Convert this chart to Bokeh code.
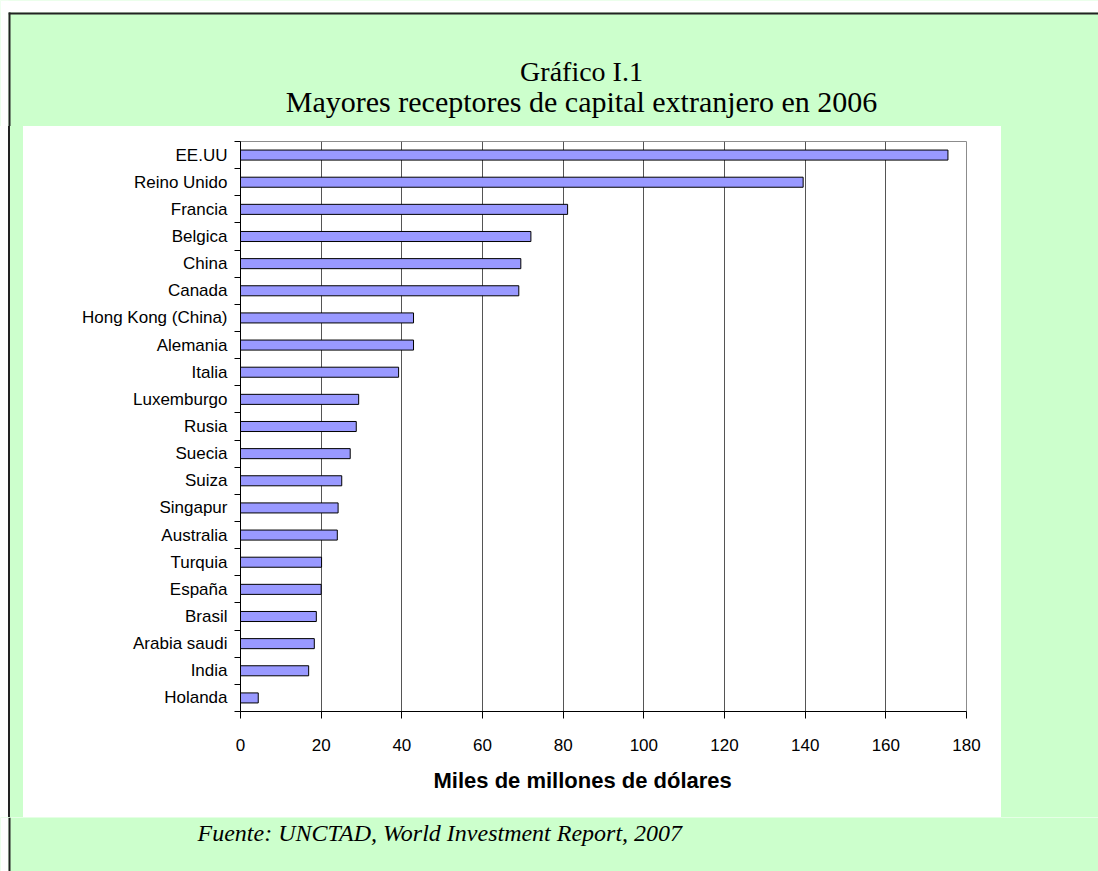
from bokeh.plotting import figure
from bokeh.layouts import column, row
from bokeh.models import Range1d, FixedTicker, Div, Title
from bokeh.core.properties import value
from bokeh.embed import file_html
from bokeh.resources import INLINE

countries = ["EE.UU", "Reino Unido", "Francia", "Belgica", "China", "Canada",
             "Hong Kong (China)", "Alemania", "Italia", "Luxemburgo", "Rusia",
             "Suecia", "Suiza", "Singapur", "Australia", "Turquia", "España",
             "Brasil", "Arabia saudi", "India", "Holanda"]
values = [175.4, 139.5, 81.1, 72.0, 69.5, 69.0, 42.9, 42.9, 39.2, 29.3, 28.7,
          27.2, 25.1, 24.2, 24.0, 20.1, 20.0, 18.8, 18.3, 16.9, 4.4]
x_ticks = [0, 20, 40, 60, 80, 100, 120, 140, 160, 180]

title_line1 = "Gráfico I.1"
title_line2 = "Mayores receptores de capital extranjero en 2006"
x_label = "Miles de millones de dólares"
source_note = "Fuente: UNCTAD, World Investment Report, 2007"

GREEN = "#CCFFCC"
BAR = "#9999FF"
EDGE = "#222222"
W = 1098
TOP_H = 126
MID_H = 691
BOT_H = 871 - TOP_H - MID_H
LEFT_W = 23
CHART_W = 978
RIGHT_W = W - LEFT_W - CHART_W


def spacer(w, h):
    f = figure(width=w, height=h, output_backend="svg", toolbar_location=None,
               x_range=Range1d(0, w), y_range=Range1d(h, 0), min_border=0,
               outline_line_color=None, background_fill_color=GREEN,
               border_fill_color=GREEN)
    f.axis.visible = False
    f.grid.visible = False
    return f


def left_margin(f, h, y0=0):
    f.quad(left=[0], right=[8], top=[0], bottom=[h], fill_color="white", line_color=None)
    f.quad(left=[8], right=[10], top=[y0], bottom=[h], fill_color=EDGE, line_color=None)


# top band with title
top = spacer(W, TOP_H)
top.quad(left=[0], right=[W], top=[0], bottom=[12], fill_color="white", line_color=None)
top.quad(left=[8], right=[W], top=[12], bottom=[14], fill_color=EDGE, line_color=None)
left_margin(top, TOP_H, 12)
top.text(x=[581], y=[71], text=[title_line1], text_font=value("Liberation Serif"),
         text_font_size="28px", text_align="center", text_baseline="alphabetic",
         text_color="black")
top.text(x=[581], y=[101], text=[title_line2], text_font=value("Liberation Serif"),
         text_font_size="30px", text_align="center", text_baseline="alphabetic",
         text_color="black")

left = Div(text="", width=LEFT_W, height=MID_H, margin=0,
           styles={"background": "linear-gradient(to right, #ffffff 0px, #ffffff 8px, "
                                 + EDGE + " 8px, " + EDGE + " 10px, " + GREEN + " 10px, "
                                 + GREEN + " 100%)"})
right = Div(text="", width=RIGHT_W, height=MID_H, margin=0,
            styles={"background": GREEN})

# main chart
n = len(countries)
ypos = [n - i for i in range(n)]
p = figure(width=CHART_W, height=MID_H, output_backend="svg", toolbar_location=None,
           x_range=Range1d(0, 180), y_range=Range1d(0.5, n + 0.5),
           min_border_left=217, min_border_right=35, min_border_top=15,
           min_border_bottom=106, background_fill_color="white",
           border_fill_color="white", outline_line_color="#8c8c8c")
p.hbar(y=ypos, right=values, left=0, height=0.37, fill_color=BAR,
       line_color="black", line_width=1)

p.xaxis.ticker = FixedTicker(ticks=x_ticks)
p.xaxis.major_label_text_font = "Liberation Sans"
p.xaxis.major_label_text_font_size = "17px"
p.xaxis.major_label_text_color = "black"
p.xaxis.major_label_standoff = 20
p.xaxis.major_tick_out = 7
p.xaxis.major_tick_in = 0
p.xaxis.minor_tick_line_color = None
p.xaxis.axis_line_color = "black"
p.xaxis.major_tick_line_color = "black"

xtitle = Title(text=x_label, align="left", offset=193, standoff=24,
               text_font="Liberation Sans", text_font_style="bold",
               text_font_size="22px", text_color="black")
p.add_layout(xtitle, "below")

p.yaxis.ticker = FixedTicker(ticks=ypos, minor_ticks=[k + 0.5 for k in range(n + 1)])
p.yaxis.major_label_overrides = {ypos[i]: countries[i] for i in range(n)}
p.yaxis.major_label_text_font = "Liberation Sans"
p.yaxis.major_label_text_font_size = "17px"
p.yaxis.major_label_text_color = "black"
p.yaxis.major_tick_line_color = None
p.yaxis.major_tick_out = 0
p.yaxis.major_tick_in = 0
p.yaxis.major_label_standoff = 7
p.yaxis.minor_tick_out = 6
p.yaxis.minor_tick_in = 0
p.yaxis.minor_tick_line_color = "black"
p.yaxis.axis_line_color = "black"

p.xgrid.ticker = FixedTicker(ticks=x_ticks)
p.xgrid.grid_line_color = "#555555"
p.xgrid.grid_line_width = 1
p.ygrid.visible = False

# bottom band with source
bottom = spacer(W, BOT_H)
left_margin(bottom, BOT_H)
bottom.text(x=[197], y=[15], text=[source_note], text_font=value("Liberation Serif"),
            text_font_size="24px", text_font_style="italic", text_align="left",
            text_baseline="alphabetic", text_color="black")

layout = column(top, row(left, p, right, spacing=0), bottom, spacing=0)
open("out.html", "w").write(file_html(layout, INLINE))
